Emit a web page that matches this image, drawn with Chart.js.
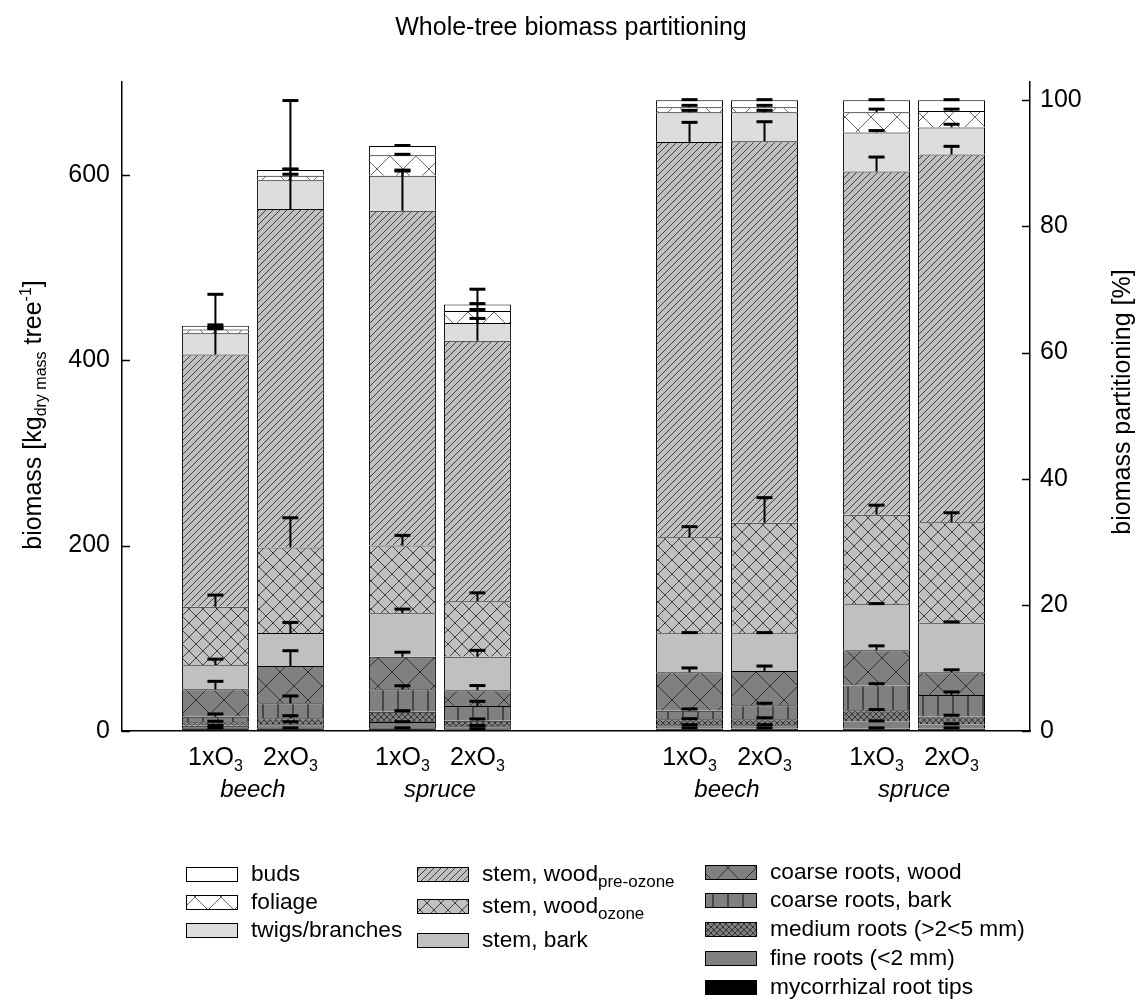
<!DOCTYPE html>
<html>
<head>
<meta charset="utf-8">
<title>Whole-tree biomass partitioning</title>
<script src="https://cdn.jsdelivr.net/npm/chart.js@4.4.1/dist/chart.umd.min.js"></script>
<style>
  html, body { margin: 0; padding: 0; background: #fff; }
  #wrap { position: relative; width: 1141px; height: 1001px; }
  #wrap canvas { position: absolute; left: 0; top: 0; }
</style>
</head>
<body>
<div id="wrap">
  <canvas id="massChart" width="1141" height="1001"></canvas>
  <canvas id="pctChart" width="1141" height="1001"></canvas>
</div>
<script>
const species = ['beech', 'spruce'];
const treatments = ['1x', '2x'];

// stack order, bottom to top
const components = [
  'mycorrhizal root tips', 'fine roots (<2 mm)', 'medium roots (>2<5 mm)',
  'coarse roots, bark', 'coarse roots, wood', 'stem, bark',
  'stem, wood', 'stem, wood', 'twigs/branches', 'foliage', 'buds'
];
const componentSubs = ['', '', '', '', '', '', 'ozone', 'pre-ozone', '', '', ''];

// biomass, kg dry mass per tree (segment values, bottom to top)
const kgBeech1x  = [2.9, 2.8, 3.8, 5.9, 29.6, 26, 63, 272, 23, 4, 4];
const kgBeech2x  = [2.9, 4.3, 6.5, 16.1, 40.2, 35.6, 92.4, 365, 31, 5, 6];
const kgSpruce1x = [2.9, 6.8, 11.1, 24.2, 35, 47, 73, 361, 38, 22, 10];
const kgSpruce2x = [2, 3, 6, 16, 17, 36, 60, 281, 19, 13, 7];

// upper error bars (kg)
const kgErrBeech1x  = [0.5, 0.5, 1, 3, 8.6, 6.5, 12.6, 65, 5, 2, 1];
const kgErrBeech2x  = [0.5, 2.8, 2.8, 8, 16.6, 11.5, 32, 117, 6.5, 7, 1];
const kgErrSpruce1x = [0.5, 0.3, 1.1, 3.8, 5, 4.5, 11, 44, 5, 1, 0.5];
const kgErrSpruce2x = [0.5, 1, 2, 5, 5, 7, 9, 55.5, 5, 1.6, 1];

// biomass partitioning, % of whole tree
const pctBeech1x  = [0.4, 0.5, 0.95, 1.35, 6.1, 6.2, 15.2, 62.7, 4.7, 0.8, 1.1];
const pctBeech2x  = [0.4, 0.5, 0.95, 2.25, 5.4, 6.0, 17.5, 60.5, 4.6, 0.8, 1.1];
const pctSpruce1x = [0.4, 1.1, 1.8, 3.9, 5.6, 7.3, 14.2, 54.4, 6.2, 3.2, 1.9];
const pctSpruce2x = [0.4, 0.65, 1.25, 3.4, 3.6, 7.8, 16, 58.3, 4.3, 2.6, 1.7];

// upper error bars (%)
const pctErrBeech1x  = [0.1, 0.1, 0.1, 0.3, 0.7, 0.1, 1.7, 3.1, 0.3, 0.3, 0.1];
const pctErrBeech2x  = [0.1, 0.1, 0.25, 0.3, 0.8, 0.1, 4, 3.1, 0.3, 0.3, 0.1];
const pctErrSpruce1x = [0.1, 0.1, 0.1, 0.3, 0.7, 0.1, 1.5, 2.3, 0.3, 0.5, 0.1];
const pctErrSpruce2x = [0.1, 0.1, 0.2, 0.5, 0.4, 0.2, 1.5, 1.3, 0.5, 0.3, 0.1];

const leftTicks = [0, 200, 400, 600];
const rightTicks = [0, 20, 40, 60, 80, 100];

const FONT = '"Liberation Sans", Arial, sans-serif';

// ---- fill patterns ----
function hatch(bg, stroke, period, kinds) {
  const c = document.createElement('canvas');
  c.width = c.height = period;
  const g = c.getContext('2d');
  g.fillStyle = bg;
  g.fillRect(0, 0, period, period);
  g.strokeStyle = stroke;
  g.lineWidth = 1;
  g.beginPath();
  for (const o of [-period, 0, period]) {
    if (kinds.includes('/')) { g.moveTo(o, period); g.lineTo(o + period, 0); }
    if (kinds.includes('\\')) { g.moveTo(o, 0); g.lineTo(o + period, period); }
  }
  if (kinds.includes('|')) { g.moveTo(period / 2 + 0.5, 0); g.lineTo(period / 2 + 0.5, period); }
  g.stroke();
  return g.createPattern(c, 'repeat');
}

const fills = [
  '#000000',                                   // mycorrhizal root tips
  '#808080',                                   // fine roots
  hatch('#808080', '#333', 6, '/\\'),           // medium roots
  hatch('#808080', '#111', 15, '|'),           // coarse roots, bark
  hatch('#808080', '#333', 28, '/\\'),          // coarse roots, wood
  '#c0c0c0',                                   // stem, bark
  hatch('#c0c0c0', '#404040', 14, '/\\'),       // stem, wood ozone
  hatch('#c0c0c0', '#404040', 7, '/'),          // stem, wood pre-ozone
  '#dddddd',                                   // twigs/branches
  hatch('#ffffff', '#666', 26, '/\\'),          // foliage
  '#ffffff'                                    // buds
];

function buildDatasets(values, errors) {
  const out = [];
  components.forEach((name, ci) => {
    treatments.forEach(t => {
      out.push({
        label: name + (componentSubs[ci] ? ' ' + componentSubs[ci] : ''),
        component: ci, treatment: t, stack: t,
        data: species.map((s, si) => ({ x: si + 1, y: values[t][si][ci] })),
        errors: species.map((s, si) => errors[t][si][ci]),
        backgroundColor: fills[ci],
        borderColor: '#000',
        borderWidth: 1,
        borderSkipped: 'start',
        categoryPercentage: 0.802,
        barPercentage: 0.893
      });
    });
  });
  return out;
}

// ---- text helpers ----
function runsWidth(ctx, runs) {
  let w = 0;
  for (const r of runs) {
    ctx.font = (r.italic ? 'italic ' : '') + r.size + 'px ' + FONT;
    w += ctx.measureText(r.t).width;
  }
  return w;
}
function drawRuns(ctx, x, y, runs, align) {
  const w = runsWidth(ctx, runs);
  let cx = align === 'center' ? x - w / 2 : x;
  ctx.textAlign = 'left';
  ctx.textBaseline = 'alphabetic';
  ctx.fillStyle = '#000';
  for (const r of runs) {
    ctx.font = (r.italic ? 'italic ' : '') + r.size + 'px ' + FONT;
    ctx.fillText(r.t, cx, y + (r.dy || 0));
    cx += ctx.measureText(r.t).width;
  }
}

// error bars, inward ticks and x labels for one panel
const panelExtras = {
  id: 'panelExtras',
  afterDatasetsDraw(chart) {
    const ctx = chart.ctx;
    const yScale = chart.scales.y;
    ctx.save();
    ctx.strokeStyle = '#000';
    chart.data.datasets.forEach((ds, di) => {
      chart.getDatasetMeta(di).data.forEach((bar, i) => {
        const err = ds.errors[i];
        if (!err) return;
        const top = yScale.getValueForPixel(bar.y);
        const yErr = yScale.getPixelForValue(top + err);
        ctx.lineWidth = 2;
        ctx.beginPath();
        ctx.moveTo(bar.x, bar.y);
        ctx.lineTo(bar.x, yErr);
        ctx.stroke();
        ctx.lineWidth = 3;
        ctx.beginPath();
        ctx.moveTo(bar.x - 8, yErr);
        ctx.lineTo(bar.x + 8, yErr);
        ctx.stroke();
      });
    });
    ctx.restore();
  },
  afterDraw(chart) {
    const ctx = chart.ctx;
    const area = chart.chartArea;
    const yScale = chart.scales.y;
    const onLeft = yScale.position === 'left';
    ctx.save();
    ctx.strokeStyle = '#000';
    ctx.lineWidth = 1.5;
    ctx.beginPath();
    yScale.ticks.forEach(tk => {
      const y = Math.round(yScale.getPixelForValue(tk.value)) + 0.5;
      const x0 = onLeft ? area.left : area.right;
      ctx.moveTo(x0, y);
      ctx.lineTo(x0 + (onLeft ? 8 : -8), y);
    });
    ctx.stroke();

    chart.data.datasets.forEach((ds, di) => {
      if (ds.component !== 0) return;
      chart.getDatasetMeta(di).data.forEach(bar => {
        drawRuns(ctx, bar.x, 765, [
          { t: ds.treatment + 'O', size: 25 },
          { t: '3', size: 16, dy: 6 }
        ], 'center');
      });
    });
    const xs = chart.scales.x;
    species.forEach((s, si) => {
      drawRuns(ctx, xs.getPixelForValue(si + 1), 797, [{ t: s, size: 24, italic: true }], 'center');
    });
    ctx.restore();
  }
};

const legendRows = [
  // [component index, column x, box top]
  [10, 186, 867], [9, 186, 895], [8, 186, 923],
  [7, 417, 867], [6, 417, 899], [5, 417, 933],
  [4, 705, 865], [3, 705, 893], [2, 705, 922], [1, 705, 951], [0, 705, 980]
];

// title, axis titles and legend (drawn once)
const figureText = {
  id: 'figureText',
  afterDraw(chart) {
    const ctx = chart.ctx;
    ctx.save();
    drawRuns(ctx, 571, 35, [{ t: 'Whole-tree biomass partitioning', size: 25 }], 'center');

    ctx.save();
    ctx.translate(41, 415);
    ctx.rotate(-Math.PI / 2);
    drawRuns(ctx, 0, 0, [
      { t: 'biomass [kg', size: 25 },
      { t: 'dry mass', size: 16, dy: 5 },
      { t: ' tree', size: 25 },
      { t: '-1', size: 16, dy: -10 },
      { t: ']', size: 25 }
    ], 'center');
    ctx.restore();

    ctx.save();
    ctx.translate(1130, 402);
    ctx.rotate(-Math.PI / 2);
    drawRuns(ctx, 0, 0, [{ t: 'biomass partitioning [%]', size: 25 }], 'center');
    ctx.restore();

    legendRows.forEach(([ci, x, y]) => {
      ctx.fillStyle = fills[ci];
      ctx.fillRect(x, y, 52, 15);
      ctx.strokeStyle = '#000';
      ctx.lineWidth = 1;
      ctx.strokeRect(x + 0.5, y + 0.5, 51, 14);
      const runs = [{ t: components[ci], size: 22.7 }];
      if (componentSubs[ci]) runs.push({ t: componentSubs[ci], size: 17, dy: 6 });
      drawRuns(ctx, x + 65, y + 14, runs, 'left');
    });
    ctx.restore();
  }
};

const tickFont = { family: FONT, size: 25 };
const speciesTicks = s => { s.ticks = species.map((_, i) => ({ value: i + 1 })); };
const baseOptions = {
  responsive: false,
  animation: false,
  devicePixelRatio: 1,
  plugins: { legend: { display: false }, tooltip: { enabled: false }, title: { display: false } }
};

// left panel: absolute biomass
new Chart(document.getElementById('massChart').getContext('2d'), {
  type: 'bar',
  data: {
    datasets: buildDatasets(
      { '1x': [kgBeech1x, kgSpruce1x], '2x': [kgBeech2x, kgSpruce2x] },
      { '1x': [kgErrBeech1x, kgErrSpruce1x], '2x': [kgErrBeech2x, kgErrSpruce2x] })
  },
  options: {
    ...baseOptions,
    layout: { padding: { top: 82, left: 0, right: 111, bottom: 0 } },
    scales: {
      x: {
        type: 'linear', position: 'bottom', stacked: true, offset: false,
        min: 0.3, max: 5.155, bounds: 'data',
        afterBuildTicks: speciesTicks,
        afterFit: s => { s.height = 270; },
        grid: { display: false, drawTicks: false, offset: false },
        border: { display: true, color: '#000', width: 1.5 },
        ticks: { display: false }
      },
      y: {
        type: 'linear', position: 'left', stacked: true,
        min: 0, max: 700,
        afterBuildTicks: s => { s.ticks = leftTicks.map(v => ({ value: v })); },
        afterFit: s => { s.width = 122; },
        grid: { display: false, drawTicks: false },
        border: { display: true, color: '#000', width: 1.5 },
        ticks: { color: '#000', font: tickFont, padding: 12 }
      }
    }
  },
  plugins: [panelExtras, figureText]
});

// right panel: partitioning in percent
new Chart(document.getElementById('pctChart').getContext('2d'), {
  type: 'bar',
  data: {
    datasets: buildDatasets(
      { '1x': [pctBeech1x, pctSpruce1x], '2x': [pctBeech2x, pctSpruce2x] },
      { '1x': [pctErrBeech1x, pctErrSpruce1x], '2x': [pctErrBeech2x, pctErrSpruce2x] })
  },
  options: {
    ...baseOptions,
    layout: { padding: { top: 82, left: 122, right: 0, bottom: 270 } },
    scales: {
      x: {
        type: 'linear', position: 'bottom', stacked: true, offset: false, display: false,
        min: -2.235, max: 2.62, bounds: 'data',
        afterBuildTicks: speciesTicks,
        grid: { offset: false }
      },
      y: {
        type: 'linear', position: 'right', stacked: true,
        min: 0, max: 102.9,
        afterBuildTicks: s => { s.ticks = rightTicks.map(v => ({ value: v })); },
        afterFit: s => { s.width = 111; },
        grid: { display: false, drawTicks: false },
        border: { display: true, color: '#000', width: 1.5 },
        ticks: { color: '#000', font: tickFont, padding: 10 }
      }
    }
  },
  plugins: [panelExtras]
});
</script>
</body>
</html>
